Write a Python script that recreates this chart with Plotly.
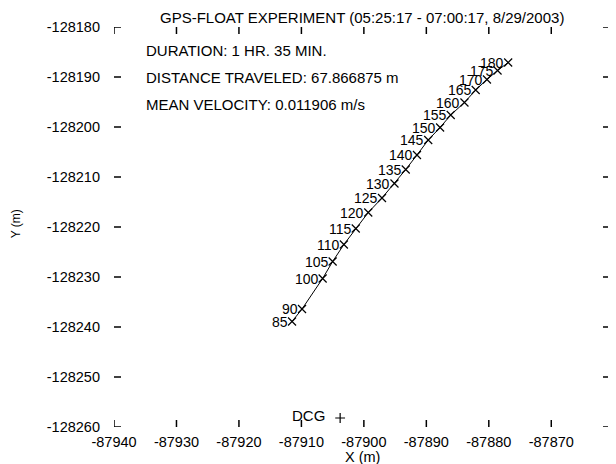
import plotly.graph_objects as go

# ---- data ----
labels = ["85", "90", "100", "105", "110", "115", "120", "125", "130", "135",
          "140", "145", "150", "155", "160", "165", "170", "175", "180"]
x_vals = [-87911.5, -87909.9, -87906.6, -87905.0, -87903.2, -87901.3, -87899.3,
          -87897.1, -87895.1, -87893.3, -87891.5, -87889.7, -87887.8, -87886.1,
          -87883.9, -87882.1, -87880.3, -87878.6, -87876.9]
y_vals = [-128238.9, -128236.4, -128230.3, -128226.9, -128223.5, -128220.3,
          -128217.1, -128214.2, -128211.3, -128208.5, -128205.6, -128202.6,
          -128200.1, -128197.6, -128195.1, -128192.6, -128190.5, -128188.7,
          -128187.1]

dcg_x = [-87903.8]
dcg_y = [-128258.2]
dcg_label = ["DCG"]

x_ticks = [-87940, -87930, -87920, -87910, -87900, -87890, -87880, -87870]
x_ticktext = ["-87940", "-87930", "-87920", "-87910", "-87900", "-87890", "-87880", "-87870"]
y_ticks = [-128180, -128190, -128200, -128210, -128220, -128230, -128240, -128250, -128260]
y_ticktext = ["-128180", "-128190", "-128200", "-128210", "-128220", "-128230",
              "-128240", "-128250", "-128260"]

title_text = "GPS-FLOAT EXPERIMENT (05:25:17 - 07:00:17, 8/29/2003)"
info_lines = ["DURATION: 1 HR. 35 MIN.",
              "DISTANCE TRAVELED: 67.866875 m",
              "MEAN VELOCITY: 0.011906 m/s"]
info_y = [-128184.6, -128190.0, -128195.4]
info_x = -87935.2

FONT = "Liberation Sans, Arial, Helvetica, sans-serif"
X_RANGE = [-87940, -87860.6]
Y_RANGE = [-128260, -128180]
TICK_LEN = 5
TICK_W = 1.5

fig = go.Figure()
fig.add_trace(go.Scatter(
    x=x_vals, y=y_vals, mode="lines+markers",
    line=dict(color="black", width=1),
    marker=dict(symbol="x-thin-open", size=8, line=dict(color="black", width=1.2), color="black"),
    hoverinfo="skip", showlegend=False))
fig.add_trace(go.Scatter(
    x=dcg_x, y=dcg_y, mode="markers",
    marker=dict(symbol="cross-thin-open", size=7, line=dict(color="black", width=1.2), color="black"),
    showlegend=False))

# frame tick marks: markers centred on the frame edge, clipped to the plot area,
# so only the inner half (TICK_LEN px) remains visible
tick_marker_v = dict(symbol="line-ns-open", size=2 * TICK_LEN, color="black",
                     line=dict(color="black", width=TICK_W))
tick_marker_h = dict(symbol="line-ew-open", size=2 * TICK_LEN, color="black",
                     line=dict(color="black", width=TICK_W))
fig.add_trace(go.Scatter(x=x_ticks, y=[Y_RANGE[1]] * len(x_ticks), mode="markers",
                         marker=tick_marker_v, cliponaxis=True, hoverinfo="skip",
                         showlegend=False))
fig.add_trace(go.Scatter(x=x_ticks, y=[Y_RANGE[0]] * len(x_ticks), mode="markers",
                         marker=tick_marker_v, cliponaxis=True, hoverinfo="skip",
                         showlegend=False))
fig.add_trace(go.Scatter(x=[X_RANGE[0]] * len(y_ticks), y=y_ticks, mode="markers",
                         marker=tick_marker_h, cliponaxis=True, hoverinfo="skip",
                         showlegend=False))
fig.add_trace(go.Scatter(x=[X_RANGE[1]] * len(y_ticks), y=y_ticks, mode="markers",
                         marker=tick_marker_h, cliponaxis=True, hoverinfo="skip",
                         showlegend=False))

annotations = []
for lx, ly, lt in zip(x_vals, y_vals, labels):
    annotations.append(dict(x=lx, y=ly, xref="x", yref="y", text=lt, showarrow=False,
                            xanchor="right", yanchor="middle", xshift=-2,
                            font=dict(family=FONT, size=14, color="black")))
annotations.append(dict(x=dcg_x[0], y=dcg_y[0], xref="x", yref="y", text=dcg_label[0],
                        showarrow=False, xanchor="right", yanchor="middle",
                        xshift=-13, yshift=3,
                        font=dict(family=FONT, size=15, color="black")))
for t, yy in zip(info_lines, info_y):
    annotations.append(dict(x=info_x, y=yy, xref="x", yref="y", text=t, showarrow=False,
                            xanchor="left", yanchor="middle",
                            font=dict(family=FONT, size=15, color="black")))
annotations.append(dict(x=0.5, y=1, xref="paper", yref="paper", text=title_text,
                        showarrow=False, xanchor="center", yanchor="middle", yshift=10,
                        font=dict(family=FONT, size=15, color="black")))
annotations.append(dict(x=0.5, y=0, xref="paper", yref="paper", text="X (m)",
                        showarrow=False, xanchor="center", yanchor="middle", yshift=-30,
                        font=dict(family=FONT, size=14.5, color="black")))
annotations.append(dict(x=-0.197, y=0.5075, xref="paper", yref="paper", text="Y (m)",
                        showarrow=False, xanchor="center", yanchor="middle", textangle=-90,
                        font=dict(family=FONT, size=12, color="black")))

axis_common = dict(showgrid=False, zeroline=False, showline=False, ticks="",
                   tickfont=dict(family=FONT, size=14.5, color="black"))

# page body has an 8px default margin, so the figure is drawn 8px smaller
fig.update_layout(
    width=608, height=456,
    margin=dict(l=106, r=6, t=19, b=37),
    paper_bgcolor="white", plot_bgcolor="white",
    xaxis=dict(range=X_RANGE, tickvals=x_ticks, ticktext=x_ticktext,
               ticklabelstandoff=4, **axis_common),
    yaxis=dict(range=Y_RANGE, tickvals=y_ticks, ticktext=y_ticktext,
               ticklabelstandoff=13, **axis_common),
    annotations=annotations,
    showlegend=False,
)

fig.write_html("out.html")
